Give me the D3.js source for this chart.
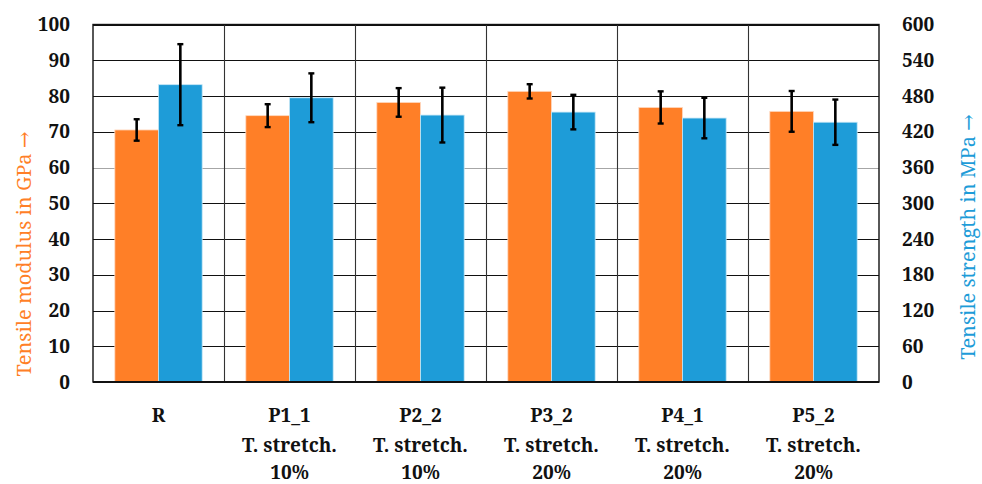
<!DOCTYPE html>
<html>
<head>
<meta charset="utf-8">
<script src="https://cdn.jsdelivr.net/npm/d3@7"></script>
<style>
  html, body { margin: 0; padding: 0; background: #fff; }
  svg { display: block; }
</style>
</head>
<body>
<svg id="chart" width="982" height="484"></svg>
<script>
// Sample groups and their two-line descriptions
const categories = ["R", "P1_1", "P2_2", "P3_2", "P4_1", "P5_2"];
const labelLine2 = ["", "T. stretch.", "T. stretch.", "T. stretch.", "T. stretch.", "T. stretch."];
const labelLine3 = ["", "10%", "10%", "20%", "20%", "20%"];

// Tensile modulus (GPa) and its standard deviation
const modulus = [70.5, 74.5, 78.2, 81.3, 76.8, 75.7];
const modulusErr = [3.0, 3.2, 4.0, 2.0, 4.5, 5.7];

// Tensile strength (MPa) and its standard deviation
const strength = [499, 477, 448, 453, 443, 436];
const strengthErr = [68, 41, 46, 29, 34, 38];

// Axis ticks
const leftTicks = [0, 10, 20, 30, 40, 50, 60, 70, 80, 90, 100];
const rightTicks = [0, 60, 120, 180, 240, 300, 360, 420, 480, 540, 600];

const orange = "#FF7F27";
const blue = "#1E9CD8";
const SERIF = "'Noto Serif', 'DejaVu Serif', serif";

const plot = { left: 93, right: 879, top: 24.5, bottom: 382 };

const svg = d3.select("#chart");

const x = d3.scaleBand().domain(categories).range([plot.left, plot.right]).padding(0);
const xSub = d3.scaleBand().domain(["modulus", "strength"])
  .range([0, x.bandwidth()]).paddingInner(0).paddingOuter(0.5);
const yL = d3.scaleLinear().domain([0, 100]).range([plot.bottom, plot.top]);
const yR = d3.scaleLinear().domain([0, 600]).range([plot.bottom, plot.top]);

// Horizontal grid lines
svg.append("g").selectAll("line")
  .data(leftTicks.filter(d => d > 0))
  .join("line")
  .attr("x1", plot.left).attr("x2", plot.right)
  .attr("y1", d => Math.round(yL(d)) + 0.5).attr("y2", d => Math.round(yL(d)) + 0.5)
  .attr("stroke", d => d === 60 ? "#a6a6a6" : "#111")
  .attr("stroke-width", 1.2);

// Vertical separators between groups
svg.append("g").selectAll("line")
  .data(categories.slice(1))
  .join("line")
  .attr("x1", d => Math.round(x(d)) + 0.5).attr("x2", d => Math.round(x(d)) + 0.5)
  .attr("y1", plot.top).attr("y2", plot.bottom)
  .attr("stroke", "#333").attr("stroke-width", 1.1);

// Bars
const rows = categories.map((c, i) => ({
  c, modulus: modulus[i], modulusErr: modulusErr[i],
  strength: strength[i], strengthErr: strengthErr[i]
}));

const groups = svg.append("g").selectAll("g")
  .data(rows).join("g")
  .attr("transform", d => `translate(${x(d.c)},0)`);

groups.append("rect")
  .attr("x", xSub("modulus")).attr("width", xSub.bandwidth())
  .attr("y", d => yL(d.modulus)).attr("height", d => yL(0) - yL(d.modulus))
  .attr("fill", orange).attr("stroke", "#ffd9c0").attr("stroke-width", 0.8);

groups.append("rect")
  .attr("x", xSub("strength")).attr("width", xSub.bandwidth())
  .attr("y", d => yR(d.strength)).attr("height", d => yR(0) - yR(d.strength))
  .attr("fill", blue).attr("stroke", "#c4e6f6").attr("stroke-width", 0.8);

// Error bars
function errorBar(sel, key, errKey, scale) {
  const cx = xSub(key) + xSub.bandwidth() / 2;
  const cap = 3;
  sel.append("line")
    .attr("x1", cx).attr("x2", cx)
    .attr("y1", d => scale(d[key] + d[errKey])).attr("y2", d => scale(d[key] - d[errKey]))
    .attr("stroke", "#000").attr("stroke-width", 2.6);
  sel.append("line")
    .attr("x1", cx - cap).attr("x2", cx + cap)
    .attr("y1", d => scale(d[key] + d[errKey])).attr("y2", d => scale(d[key] + d[errKey]))
    .attr("stroke", "#000").attr("stroke-width", 2.4);
  sel.append("line")
    .attr("x1", cx - cap).attr("x2", cx + cap)
    .attr("y1", d => scale(d[key] - d[errKey])).attr("y2", d => scale(d[key] - d[errKey]))
    .attr("stroke", "#000").attr("stroke-width", 2.4);
}
errorBar(groups, "modulus", "modulusErr", yL);
errorBar(groups, "strength", "strengthErr", yR);

// Plot frame
svg.append("rect")
  .attr("x", plot.left).attr("y", plot.top)
  .attr("width", plot.right - plot.left).attr("height", plot.bottom - plot.top)
  .attr("fill", "none").attr("stroke", "#111").attr("stroke-width", 1.4);
svg.append("line")
  .attr("x1", plot.left).attr("x2", plot.right)
  .attr("y1", plot.bottom).attr("y2", plot.bottom)
  .attr("stroke", "#111").attr("stroke-width", 2.2);

function styleTicks(g) {
  g.attr("font-family", null).attr("font-size", null);
  g.select(".domain").remove();
  g.selectAll("text")
    .style("font-family", SERIF).style("font-weight", "bold")
    .style("font-size", "19px").style("fill", "#111");
}

// Left axis labels
const gL = svg.append("g").attr("transform", `translate(${plot.left},0)`)
  .call(d3.axisLeft(yL).tickValues(leftTicks).tickSize(0).tickPadding(23));
styleTicks(gL);

// Right axis labels
const gR = svg.append("g").attr("transform", `translate(${plot.right},0)`)
  .call(d3.axisRight(yR).tickValues(rightTicks).tickSize(0).tickPadding(23));
styleTicks(gR);

// Category labels (three lines)
const cx = d => x(d) + x.bandwidth() / 2;
const cat = svg.append("g").selectAll("text")
  .data(categories).join("text")
  .style("font-family", SERIF).style("font-weight", "bold")
  .style("font-size", "19px").style("fill", "#111")
  .attr("text-anchor", "middle")
  .attr("x", cx)
  .attr("y", 422);
cat.append("tspan").text(d => d);
cat.append("tspan").attr("x", cx).attr("y", 452).text((d, i) => labelLine2[i]);
cat.append("tspan").attr("x", cx).attr("y", 479).text((d, i) => labelLine3[i]);

// Axis titles
function axisTitle(text, color, tx, ty) {
  svg.append("text")
    .style("font-family", SERIF).style("font-size", "20px").style("fill", color)
    .attr("text-anchor", "middle")
    .attr("transform", `translate(${tx},${ty}) rotate(-90)`)
    .text(text);
}
axisTitle("Tensile modulus in GPa \u2192", orange, 31, 254);
axisTitle("Tensile strength in MPa \u2192", blue, 975, 237);
</script>
</body>
</html>
